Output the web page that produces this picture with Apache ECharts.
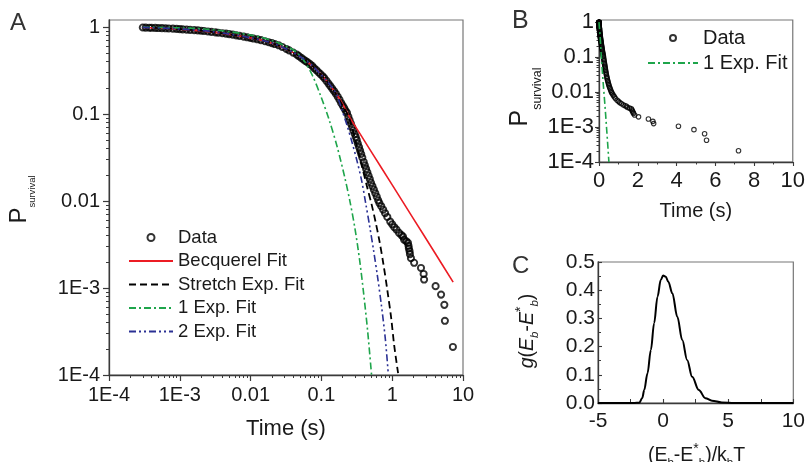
<!DOCTYPE html>
<html><head><meta charset="utf-8">
<script src="https://cdn.jsdelivr.net/npm/echarts@6/dist/echarts.min.js"></script>
<style>html,body{margin:0;padding:0;background:#fff}#c{width:808px;height:462px}</style>
</head><body><div id="c"></div>
<script>
// ---------- data (time in s, survival probability) ----------
const dataT = [3e-4,3.3e-4,3.7e-4,4e-4,4.5e-4,5e-4,5.6e-4,6.3e-4,7e-4,8e-4,9e-4,1e-3,1.1e-3,1.25e-3,1.4e-3,1.6e-3,1.8e-3,2e-3,2.2e-3,2.5e-3,2.8e-3,3.2e-3,3.5e-3,4e-3,4.5e-3,5e-3,5.6e-3,6.3e-3,7e-3,8e-3,9e-3,0.01,0.011,0.0125,0.014,0.016,0.018,0.02,0.022,0.025,0.028,0.032,0.035,0.04,0.045,
  0.048,0.052,0.056,0.06,0.064,0.069,0.074,0.079,0.085,0.091,0.097,0.104,0.11,0.118,0.126,0.134,0.142,0.151,0.16,0.17,0.18,0.19,0.2,0.21,0.22,0.23,
  0.24,0.25,0.261,0.272,0.283,0.296,0.306,0.316,0.327,0.34,0.352,0.365,0.378,0.396,0.411,0.428,0.446,0.464,0.483,0.502,0.526,0.551,0.577,0.605,0.634,0.659,0.7,0.746,0.794,0.853,
  0.937,1.0,1.07,1.15,1.25,1.35,1.42,1.47,1.58,1.67,1.7,1.72,1.76,1.78,1.84,2.04,2.55,2.78,2.82,4.1,4.9,5.45,5.55,7.2];
const dataP = [0.987,0.984,0.981,0.979,0.976,0.973,0.97,0.966,0.963,0.957,0.951,0.945,0.94,0.934,0.928,0.921,0.915,0.907,0.9,0.889,0.879,0.868,0.86,0.849,0.839,0.829,0.817,0.802,0.79,0.775,0.761,0.748,0.737,0.722,0.706,0.686,0.668,0.652,0.637,0.616,0.59,0.559,0.539,0.508,0.481,
  0.463,0.442,0.423,0.406,0.392,0.375,0.357,0.337,0.319,0.302,0.287,0.272,0.259,0.24,0.224,0.209,0.196,0.183,0.171,0.158,0.146,0.134,0.125,0.117,0.109,0.103,
  0.0933,0.0851,0.0776,0.0708,0.0646,0.0589,0.0544,0.0501,0.0457,0.0417,0.038,0.0347,0.0316,0.0281,0.0257,0.0234,0.0214,0.0195,0.0178,0.0162,0.0148,0.0135,0.0123,0.0112,0.0102,0.00948,0.00871,0.00794,0.00724,0.00655,
  0.0058,0.0054,0.005,0.0047,0.0043,0.00405,0.0039,0.0036,0.00345,0.0033,0.00305,0.00285,0.00265,0.00245,0.0022,0.00195,0.0017,0.00145,0.00125,0.00105,0.00084,0.00064,0.00042,0.00021];

const becqT = [3e-4,1e-3,3e-3,0.01,0.02,0.04,0.07,0.1,0.15,0.2,0.25,0.35,0.5,1,2,4,7.26];
const becqP = [0.987,0.946,0.874,0.748,0.652,0.508,0.373,0.283,0.186,0.13,0.092,0.0594,0.0375,0.0153,0.00624,0.00254,0.00117];

const strT = [3e-4,1e-3,3e-3,0.01,0.02,0.04,0.07,0.1,0.15,0.2,0.24,0.27,0.316,0.371,0.436,0.511,0.581,0.659,0.75,0.853,0.968,1.066,1.211];
const strP = [0.99,0.948,0.875,0.748,0.652,0.508,0.373,0.28,0.185,0.124,0.095,0.0709,0.043,0.0258,0.0152,0.0092,0.0058,0.0035,0.0019,0.00095,0.00045,0.00022,0.000105];

const exp1T = [3e-4,2.22e-3,0.011,0.0209,0.0337,0.0436,0.0581,0.075,0.0968,0.129,0.167,0.215,0.253,0.297,0.348,0.396,0.45,0.511];
const exp1P = [0.993,0.95,0.8,0.69,0.59,0.52,0.4,0.275,0.165,0.085,0.042,0.0183,0.0099,0.0049,0.00205,0.00085,0.00032,0.0001];

const exp2T = [3e-4,1e-3,3e-3,0.01,0.02,0.04,0.07,0.1,0.13,0.162,0.196,0.2296,0.27,0.316,0.371,0.422,0.48,0.545,0.619,0.703,0.8,0.879];
const exp2P = [0.99,0.95,0.88,0.75,0.655,0.51,0.375,0.28,0.22,0.17,0.11,0.0747,0.0477,0.0296,0.017,0.00948,0.00516,0.00273,0.00137,0.000638,0.000259,0.000105];

// panel C distribution g(Eb - Eb*)
const cX = [-5,-2.2,-1.83,-1.6,-1.45,-1.2,-0.94,-0.69,-0.43,-0.18,0,0.2,0.4,0.71,1.09,1.47,1.85,2.23,2.74,3.25,3.75,4.5,5.5,10];
const cY = [0,0,0.001,0.018,0.046,0.105,0.188,0.283,0.377,0.436,0.452,0.448,0.43,0.389,0.306,0.223,0.152,0.093,0.046,0.017,0.008,0.002,0,0];

// tick labels
const aXTickVals = [1e-4,1e-3,0.01,0.1,1,10];
const aXTickLabels = ['1E-4','1E-3','0.01','0.1','1','10'];
const pTickVals = [1e-4,1e-3,0.01,0.1,1];
const pTickLabels = ['1E-4','1E-3','0.01','0.1','1'];

// ---------- helpers ----------
const FONT = '"Liberation Sans", Arial, Helvetica, sans-serif';
const L = Math.log10;
const AX = '#3a3a3a';
const TXT = '#1a1a1a';
const minorLog = vals => {
  const out = [];
  for (let i = 0; i < vals.length - 1; i++) for (let k = 2; k <= 9; k++) out.push(L(k * vals[i]));
  return out;
};
const labelFor = (vals, labels) => v => {
  for (let i = 0; i < vals.length; i++) if (Math.abs(L(vals[i]) - v) < 1e-6) return labels[i];
  return '';
};
const logLog = (ts, ps) => ts.map((t, i) => [L(t), L(ps[i])]);
const linLog = (ts, ps) => ts.map((t, i) => [t, L(ps[i])]);

const aXMaj = aXTickVals.map(L), pMaj = pTickVals.map(L);

const axisLineS = {show: true, onZero: false, lineStyle: {color: AX, width: 1.3}};
const minorAxis = (grid, pos, min, max, vals, len, inside) => ({
  gridIndex: grid, type: 'value', position: pos, offset: 0, min, max,
  axisLine: {show: false, onZero: false}, axisLabel: {show: false}, splitLine: {show: false},
  axisTick: {show: true, inside: !!inside, length: len, customValues: vals, lineStyle: {color: AX, width: 1}}
});
const hidden = {opacity: 0, color: 'rgba(0,0,0,0)', borderWidth: 0};

const cRich = {
  n: {fontSize: 19.5, lineHeight: 40, fill: TXT, fontFamily: FONT},
  i: {fontSize: 19.5, lineHeight: 40, fontStyle: 'italic', fill: TXT, fontFamily: FONT},
  s: {fontSize: 11.5, lineHeight: 16, padding: [13, 0, 0, 0], fill: TXT, fontFamily: FONT},
  si: {fontSize: 11.5, lineHeight: 16, padding: [13, 0, 0, 0], fontStyle: 'italic', fill: TXT, fontFamily: FONT},
  u: {fontSize: 14, lineHeight: 16, padding: [0, 0, 14, 0], fill: TXT, fontFamily: FONT}
};

const chart = echarts.init(document.getElementById('c'), null, {renderer: 'canvas'});
chart.setOption({
  animation: false,
  backgroundColor: '#fff',
  textStyle: {fontFamily: FONT},
  grid: [
    {left: 103, top: 20, width: 360, height: 355, show: true, borderColor: '#777', borderWidth: 1.2, containLabel: false},
    {left: 599, top: 20, width: 196, height: 142, show: true, borderColor: '#777', borderWidth: 1.2, containLabel: false},
    {left: 598, top: 262, width: 197, height: 141, show: true, borderColor: '#777', borderWidth: 1.2, containLabel: false}
  ],
  xAxis: [
    {gridIndex: 0, type: 'value', position: 'bottom', min: -4, max: 1,
     axisLine: axisLineS, splitLine: {show: false},
     axisTick: {show: true, length: 6, customValues: aXMaj, lineStyle: {color: AX, width: 1.2}},
     axisLabel: {customValues: aXMaj, formatter: labelFor(aXTickVals, aXTickLabels), fontSize: 20, color: TXT, margin: 10, fontFamily: FONT},
     name: 'Time (s)', nameLocation: 'middle', nameGap: 43, nameTextStyle: {fontSize: 22, color: TXT, fontFamily: FONT}},
    minorAxis(0, 'bottom', -4, 1, minorLog(aXTickVals), 3),
    {gridIndex: 1, type: 'value', position: 'bottom', min: 0, max: 10, interval: 2,
     axisLine: axisLineS, splitLine: {show: false},
     axisTick: {show: true, length: 4, lineStyle: {color: AX, width: 1.1}},
     minorTick: {show: true, splitNumber: 2, length: 2.5, lineStyle: {color: AX, width: 1}},
     axisLabel: {fontSize: 22, color: TXT, margin: 8, fontFamily: FONT},
     name: 'Time (s)', nameLocation: 'middle', nameGap: 39, nameTextStyle: {fontSize: 20, color: TXT, fontFamily: FONT}},
    {gridIndex: 2, type: 'value', position: 'bottom', min: -5, max: 10, interval: 5,
     axisLine: axisLineS, splitLine: {show: false},
     axisTick: {show: true, inside: true, length: 4, lineStyle: {color: AX, width: 1.1}},
     minorTick: {show: true, splitNumber: 2, length: 4, lineStyle: {color: AX, width: 1}},
     axisLabel: {fontSize: 21, color: TXT, margin: 8, fontFamily: FONT}}
  ],
  yAxis: [
    {gridIndex: 0, type: 'value', position: 'left', min: -4, max: 0.0805,
     axisLine: axisLineS, splitLine: {show: false},
     axisTick: {show: true, length: 6, customValues: pMaj, lineStyle: {color: AX, width: 1.2}},
     axisLabel: {customValues: pMaj, formatter: labelFor(pTickVals, pTickLabels), fontSize: 20, color: TXT, margin: 9, fontFamily: FONT},
     name: '{p|P}{s|survival}', nameLocation: 'middle', nameRotate: 90, nameGap: 67,
     nameTextStyle: {padding: [0, 4, 0, 0], rich: {
       p: {fontSize: 24, lineHeight: 46, color: TXT, fontFamily: FONT},
       s: {fontSize: 9.5, lineHeight: 20, padding: [26, 0, 0, 0], color: TXT, fontFamily: FONT}}}},
    minorAxis(0, 'left', -4, 0.0805, minorLog(pTickVals), 3),
    {gridIndex: 1, type: 'value', position: 'left', min: -4, max: 0.057,
     axisLine: axisLineS, splitLine: {show: false},
     axisTick: {show: true, length: 4, customValues: pMaj, lineStyle: {color: AX, width: 1.1}},
     axisLabel: {customValues: pMaj, formatter: labelFor(pTickVals, pTickLabels), fontSize: 22, color: TXT, margin: 5, fontFamily: FONT},
     name: '{p|P}{s|survival}', nameLocation: 'middle', nameRotate: 90, nameGap: 50,
     nameTextStyle: {padding: [0, 12, 0, 0], rich: {
       p: {fontSize: 25, lineHeight: 52, color: TXT, fontFamily: FONT},
       s: {fontSize: 12.5, lineHeight: 18, padding: [34, 0, 0, 0], color: TXT, fontFamily: FONT}}}},
    minorAxis(1, 'left', -4, 0.057, minorLog(pTickVals), 2.5),
    {gridIndex: 2, type: 'value', position: 'left', min: 0, max: 0.5, interval: 0.1,
     axisLine: axisLineS, splitLine: {show: false},
     axisTick: {show: true, inside: true, length: 4, lineStyle: {color: AX, width: 1.1}},
     minorTick: {show: true, splitNumber: 2, length: 3, lineStyle: {color: AX, width: 1}},
     axisLabel: {fontSize: 21, color: TXT, margin: 3, fontFamily: FONT, formatter: v => v.toFixed(1)}}
  ],
  legend: [
    {orient: 'vertical', left: 128, top: 228, padding: 0, itemWidth: 44, itemHeight: 7, itemGap: 4.5, selectedMode: false,
     textStyle: {fontSize: 18.5, color: TXT, fontFamily: FONT},
     data: ['Data', 'Becquerel Fit', 'Stretch Exp. Fit', '1 Exp. Fit', '2 Exp. Fit']},
    {orient: 'vertical', left: 647, top: 28, padding: 0, itemWidth: 50, itemHeight: 6, itemGap: 5, selectedMode: false,
     textStyle: {fontSize: 20, color: TXT, fontFamily: FONT},
     data: ['Data', '1 Exp. Fit']}
  ],
  graphic: [
    {type: 'text', left: 10, top: 11, style: {text: 'A', font: '24px ' + FONT, fill: '#333'}},
    {type: 'text', left: 512, top: 9, style: {text: 'B', font: '25px ' + FONT, fill: '#333'}},
    {type: 'text', left: 512, top: 254, style: {text: 'C', font: '24px ' + FONT, fill: '#333'}},
    {type: 'text', x: 696.5, y: 456, silent: true,
     style: {text: '{n|(E}{s|b}{n|-E}{u|*}{s|b}{n|)/k}{s|b}{n|T}', rich: cRich, align: 'center', verticalAlign: 'middle'}},
    {type: 'text', x: 528, y: 331, rotation: Math.PI / 2, silent: true,
     style: {text: '{i|g}{n|(}{i|E}{si|b}{n|-}{i|E}{u|*}{si|b}{n|)}', rich: cRich, align: 'center', verticalAlign: 'middle'}}
  ],
  series: [
    {type: 'scatter', name: 'Data', xAxisIndex: 0, yAxisIndex: 0, data: logLog(dataT, dataP),
     symbol: 'circle', symbolSize: 6.2, itemStyle: {color: 'rgba(255,255,255,0)', borderColor: '#000', borderWidth: 1.9}, z: 2, silent: true},
    {type: 'line', name: 'Becquerel Fit', xAxisIndex: 0, yAxisIndex: 0, data: logLog(becqT, becqP), symbol: 'none', showSymbol: false, smooth: 0.3,
     itemStyle: hidden, lineStyle: {color: '#ec1c24', width: 1.6, type: 'solid'}, z: 3, silent: true},
    {type: 'line', name: 'Stretch Exp. Fit', xAxisIndex: 0, yAxisIndex: 0, data: logLog(strT, strP), symbol: 'none', showSymbol: false, smooth: 0.3,
     itemStyle: hidden, lineStyle: {color: '#000', width: 1.8, type: [7, 4]}, z: 3, silent: true},
    {type: 'line', name: '1 Exp. Fit', xAxisIndex: 0, yAxisIndex: 0, data: logLog(exp1T, exp1P), symbol: 'none', showSymbol: false, smooth: 0.3,
     itemStyle: hidden, lineStyle: {color: '#1ea54b', width: 1.6, type: [7, 3, 2, 3]}, z: 3, silent: true},
    {type: 'line', name: '2 Exp. Fit', xAxisIndex: 0, yAxisIndex: 0, data: logLog(exp2T, exp2P), symbol: 'none', showSymbol: false, smooth: 0.3,
     itemStyle: hidden, lineStyle: {color: '#2b3194', width: 1.6, type: [7, 3, 2, 3, 2, 3]}, z: 3, silent: true},
    {type: 'scatter', name: 'Data', xAxisIndex: 2, yAxisIndex: 2, data: linLog(dataT, dataP),
     symbol: 'circle', symbolSize: 4.5, itemStyle: {color: 'rgba(255,255,255,0)', borderColor: '#000', borderWidth: 1.1}, z: 2, silent: true},
    {type: 'line', name: '1 Exp. Fit', xAxisIndex: 2, yAxisIndex: 2, data: linLog(exp1T, exp1P), symbol: 'none', showSymbol: false,
     itemStyle: hidden, lineStyle: {color: '#1ea54b', width: 1.6, type: [7, 3, 2, 3]}, z: 3, silent: true},
    {type: 'line', name: 'g', xAxisIndex: 3, yAxisIndex: 4, data: cX.map((x, i) => [x, cY[i]]), symbol: 'none', showSymbol: false, smooth: 0.35, smoothMonotone: 'x',
     itemStyle: hidden, lineStyle: {color: '#000', width: 2}, z: 3, silent: true}
  ]
});
</script>
</body></html>
